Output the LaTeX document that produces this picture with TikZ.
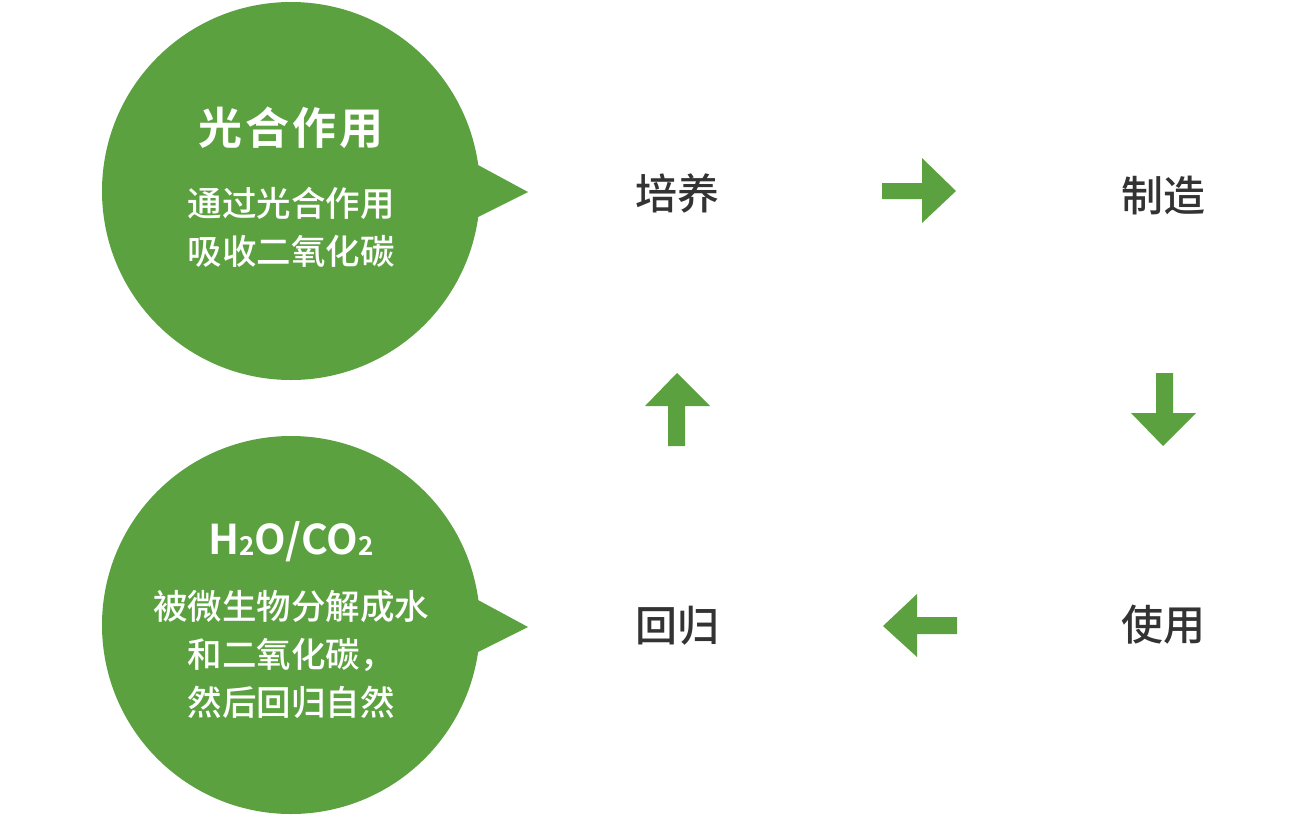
\documentclass[tikz,border=0pt]{standalone}
\usepackage{fontspec}
\newfontfamily\cjk{Noto Sans CJK SC}[BoldFont={* Bold}]
\newfontfamily\cjkm{Noto Sans CJK SC Medium}
\definecolor{leaf}{RGB}{91,161,63}
\definecolor{ink}{RGB}{51,51,51}
\tikzset{
  bubble/.style={circle, fill=leaf, minimum size=378pt, inner sep=0pt},
  title/.style={text=white, font=\cjk\bfseries\fontsize{44}{48}\selectfont},
  body/.style={text=white, align=center, font=\cjkm\fontsize{34.5}{48}\selectfont},
  label/.style={text=ink, font=\cjkm\fontsize{42}{48}\selectfont},
  blockarrow/.style={fill=leaf}
}
\begin{document}
\begin{tikzpicture}[x=1pt,y=-1pt]
\useasboundingbox (0,0) rectangle (1300,817);
% top bubble
\node[bubble] (top) at (291,191) {};
\fill[leaf] (478,165) -- (528,192) -- (478,217) -- cycle;
\node[title] (toptitle) at (291,128) {光\kern3pt 合\kern3pt 作\kern3pt 用};
\node[body] (topbody) at (291,227) {通过光合作用\\吸收二氧化碳};
% bottom bubble
\node[bubble] (bot) at (291,625) {};
\fill[leaf] (478,600) -- (528,627) -- (478,652) -- cycle;
\node[text=white, font=\cjk\bfseries\fontsize{41}{48}\selectfont] (bottitle) at (291,542)
  {H\raisebox{-1pt}{\fontsize{26}{30}\selectfont 2}O/CO\raisebox{-1pt}{\fontsize{26}{30}\selectfont 2}};
\node[body] (botbody) at (291,654) {被微生物分解成水\\和二氧化碳，\\然后回归自然};
% labels
\node[label] (cult) at (677,193) {培养};
\node[label] (make) at (1163,196) {制造};
\node[label] (use) at (1163,625) {使用};
\node[label] (ret) at (677,626) {回归};
% arrows
\fill[blockarrow] (882,183) -- (922,183) -- (922,158) -- (956,191) -- (922,223) -- (922,199) -- (882,199) -- cycle;
\fill[blockarrow] (1156,373) -- (1173,373) -- (1173,413) -- (1196,413) -- (1163,446) -- (1131,413) -- (1156,413) -- cycle;
\fill[blockarrow] (957,617) -- (917,617) -- (917,594) -- (883,626) -- (917,657) -- (917,634) -- (957,634) -- cycle;
\fill[blockarrow] (668,446) -- (685,446) -- (685,406) -- (710,406) -- (677,373) -- (645,406) -- (668,406) -- cycle;
\end{tikzpicture}
\end{document}
